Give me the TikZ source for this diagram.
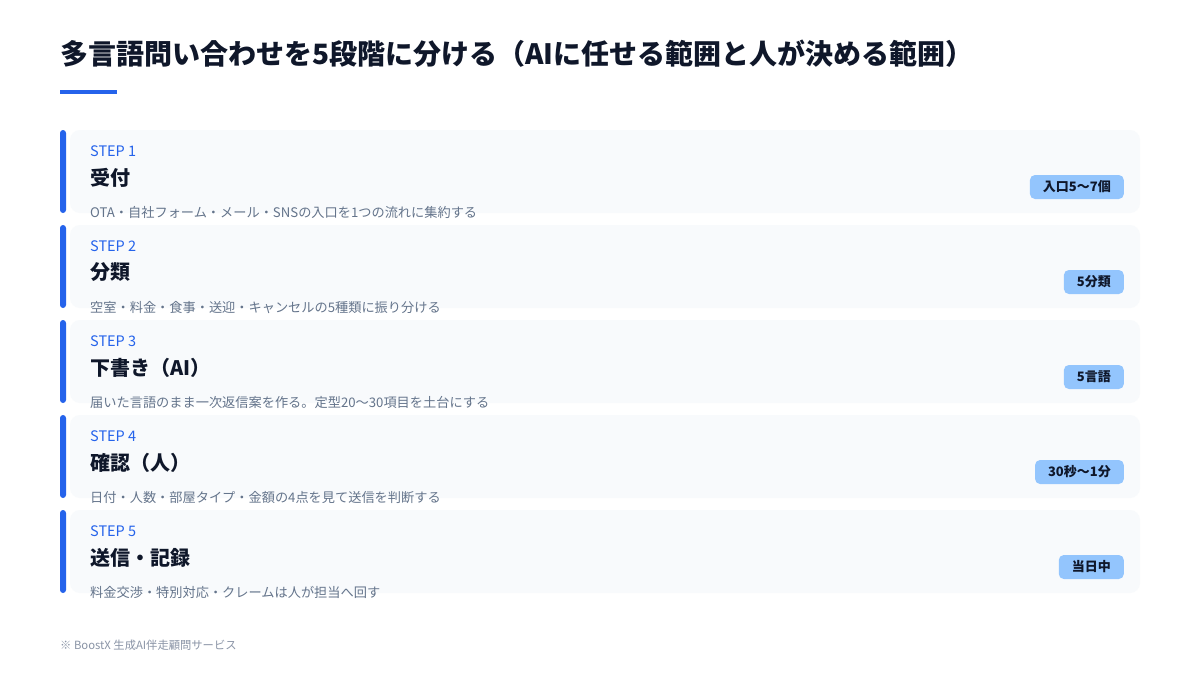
\documentclass[tikz,border=0pt]{standalone}
\usepackage{fontspec}
\setmainfont{Noto Sans CJK JP}
\usepackage{tikz}
\usetikzlibrary{positioning}
\definecolor{ink}{HTML}{0F172A}
\definecolor{bo}{HTML}{2563EB}
\definecolor{cardbg}{HTML}{F8FAFC}
\definecolor{txtgray}{HTML}{64748B}
\definecolor{notegray}{HTML}{8A94A6}
\definecolor{badgebg}{HTML}{93C5FD}
\tikzset{
  steplabel/.style={anchor=west,inner sep=0pt,text=bo,font=\fontsize{14.5}{16}\selectfont},
  steptitle/.style={anchor=west,inner sep=0pt,text=ink,font=\fontsize{20}{24}\selectfont\bfseries},
  stepdesc/.style={anchor=west,inner sep=0pt,text=txtgray,font=\fontsize{13.2}{15}\selectfont},
  badge/.style={anchor=east,fill=badgebg,rounded corners=5pt,inner xsep=13pt,inner ysep=0pt,
    minimum height=24pt,text=ink,font=\fontsize{13}{15}\selectfont\bfseries}
}
\begin{document}
\begin{tikzpicture}[x=1pt,y=-1pt]
\useasboundingbox[fill=white](0,0)rectangle(1200,675);
% titre
\node[anchor=west,inner sep=0pt,text=ink,font=\fontsize{28}{32}\selectfont\bfseries] (title) at (60,54)
  {多言語問い合わせを5段階に分ける（AIに任せる範囲と人が決める範囲）};
\fill[bo](60,90)rectangle(117,94);
% etapes
\foreach \i/\lab/\ttl/\desc/\bdg in {
  1/STEP 1/受付/OTA・自社フォーム・メール・SNSの入口を1つの流れに集約する/入口5～7個,
  2/STEP 2/分類/空室・料金・食事・送迎・キャンセルの5種類に振り分ける/5分類,
  3/STEP 3/下書き（AI）/届いた言語のまま一次返信案を作る。定型20～30項目を土台にする/5言語,
  4/STEP 4/確認（人）/日付・人数・部屋タイプ・金額の4点を見て送信を判断する/30秒～1分,
  5/STEP 5/送信・記録/料金交渉・特別対応・クレームは人が担当へ回す/当日中}
{
  \pgfmathsetmacro{\ytop}{130+95*(\i-1)}
  \fill[cardbg,rounded corners=10pt](70,\ytop)rectangle(1140,\ytop+83);
  \fill[bo,rounded corners=3pt](60,\ytop)rectangle(66,\ytop+83);
  \node[steplabel] (lab\i) at (90,\ytop+21) {\lab};
  \node[steptitle] (ttl\i) at (90,\ytop+47.5) {\ttl};
  \node[stepdesc] (desc\i) at (90,\ytop+82.5) {\desc};
  \node[badge] (bdg\i) at (1124,\ytop+57) {\bdg};
}
% note
\node[anchor=west,inner sep=0pt,text=notegray,font=\fontsize{11.3}{13}\selectfont] (note) at (60,645)
  {※ BoostX 生成AI伴走顧問サービス};
\end{tikzpicture}
\end{document}
